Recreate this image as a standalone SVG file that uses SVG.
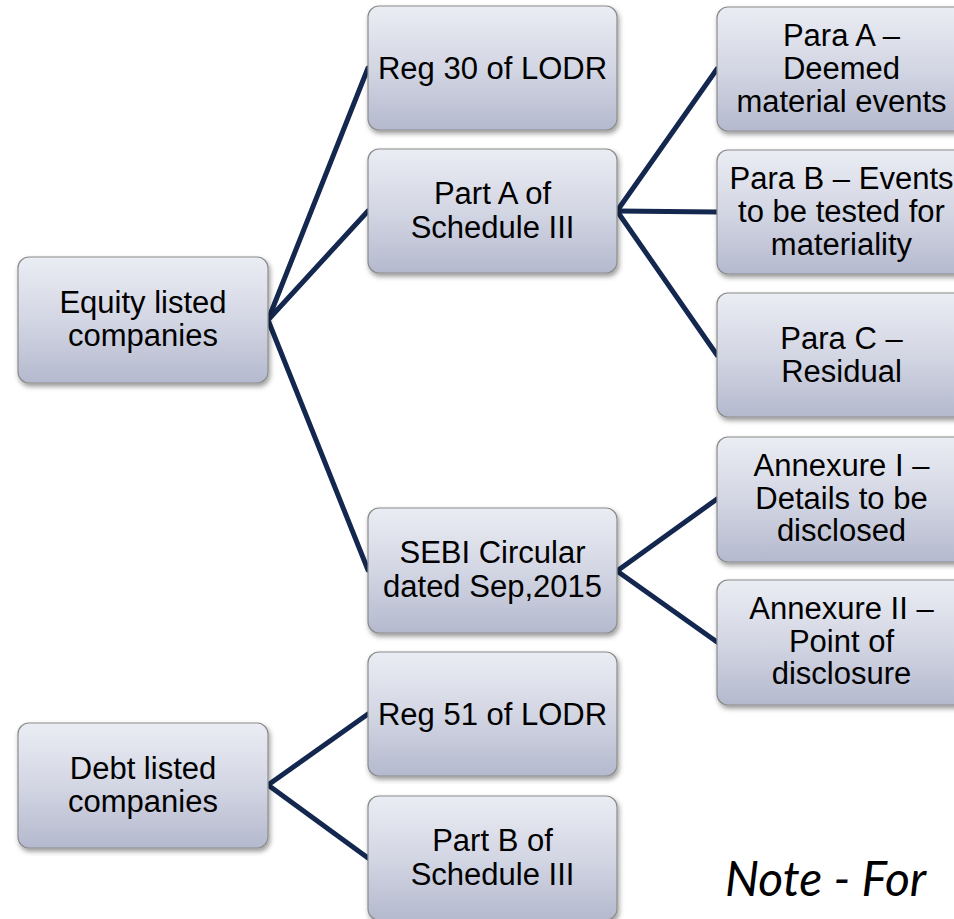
<svg xmlns="http://www.w3.org/2000/svg" width="954" height="919" viewBox="0 0 954 919">
  <defs>
    <linearGradient id="boxFill" x1="0" y1="0" x2="0" y2="1">
      <stop offset="0" stop-color="#ebedf4"/>
      <stop offset="0.5" stop-color="#d3d6e3"/>
      <stop offset="1" stop-color="#b4b9ce"/>
    </linearGradient>
    <filter id="shadow" x="-10%" y="-10%" width="125%" height="130%">
      <feDropShadow dx="1.5" dy="3" stdDeviation="2.5" flood-color="#000" flood-opacity="0.4"/>
    </filter>
  </defs>
  <style>
    .box { fill: url(#boxFill); stroke: #8c8c8c; stroke-width: 1.2; filter: url(#shadow); }
    .lbl { font-family: "Liberation Sans", Arial, sans-serif; font-size: 31px; fill: #000; text-anchor: middle; }
    .link { stroke: #14284f; stroke-width: 5; fill: none; stroke-linecap: round; stroke-linejoin: round; }
    .note { font-family: Lato, "Open Sans", sans-serif; font-style: italic; font-size: 48px; fill: #000; }
  </style>
  <rect width="954" height="919" fill="#fff"/>

  <!-- connectors -->
  <g id="connectors">
    <polyline class="link" points="368,68 268,320 368,211"/>
    <polyline class="link" points="268,320 368,570"/>
    <polyline class="link" points="717,69 617,211 717,355"/>
    <polyline class="link" points="617,211 717,212"/>
    <polyline class="link" points="717,499 617,571 717,642"/>
    <polyline class="link" points="368,714 268,785 368,858"/>
  </g>

  <!-- left column -->
  <g id="equity">
    <rect class="box" x="18" y="257" width="250" height="126" rx="11"/>
    <text class="lbl" x="143" y="313">Equity listed</text>
    <text class="lbl" x="143" y="346">companies</text>
  </g>
  <g id="debt">
    <rect class="box" x="18" y="723" width="250" height="125" rx="11"/>
    <text class="lbl" x="143" y="779">Debt listed</text>
    <text class="lbl" x="143" y="812">companies</text>
  </g>

  <!-- middle column -->
  <g id="reg30">
    <rect class="box" x="368" y="6" width="249" height="124" rx="11"/>
    <text class="lbl" x="492.5" y="79">Reg 30 of LODR</text>
  </g>
  <g id="partA">
    <rect class="box" x="368" y="149" width="249" height="124" rx="11"/>
    <text class="lbl" x="492.5" y="204">Part A of</text>
    <text class="lbl" x="492.5" y="238">Schedule III</text>
  </g>
  <g id="sebi">
    <rect class="box" x="368" y="508" width="249" height="125" rx="11"/>
    <text class="lbl" x="492.5" y="563">SEBI Circular</text>
    <text class="lbl" x="492.5" y="597">dated Sep,2015</text>
  </g>
  <g id="reg51">
    <rect class="box" x="368" y="652" width="249" height="124" rx="11"/>
    <text class="lbl" x="492.5" y="725">Reg 51 of LODR</text>
  </g>
  <g id="partB">
    <rect class="box" x="368" y="796" width="249" height="124" rx="11"/>
    <text class="lbl" x="492.5" y="851">Part B of</text>
    <text class="lbl" x="492.5" y="885">Schedule III</text>
  </g>

  <!-- right column -->
  <g id="paraA">
    <rect class="box" x="717" y="7" width="249" height="124" rx="11"/>
    <text class="lbl" x="841.5" y="46">Para A –</text>
    <text class="lbl" x="841.5" y="79">Deemed</text>
    <text class="lbl" x="841.5" y="112">material events</text>
  </g>
  <g id="paraB">
    <rect class="box" x="717" y="150" width="249" height="124" rx="11"/>
    <text class="lbl" x="841.5" y="189">Para B – Events</text>
    <text class="lbl" x="841.5" y="222">to be tested for</text>
    <text class="lbl" x="841.5" y="255">materiality</text>
  </g>
  <g id="paraC">
    <rect class="box" x="717" y="293" width="249" height="124" rx="11"/>
    <text class="lbl" x="841.5" y="349">Para C –</text>
    <text class="lbl" x="841.5" y="382">Residual</text>
  </g>
  <g id="annex1">
    <rect class="box" x="717" y="437" width="249" height="125" rx="11"/>
    <text class="lbl" x="841.5" y="476">Annexure I –</text>
    <text class="lbl" x="841.5" y="509">Details to be</text>
    <text class="lbl" x="841.5" y="541">disclosed</text>
  </g>
  <g id="annex2">
    <rect class="box" x="717" y="580" width="249" height="125" rx="11"/>
    <text class="lbl" x="841.5" y="619">Annexure II –</text>
    <text class="lbl" x="841.5" y="652">Point of</text>
    <text class="lbl" x="841.5" y="684">disclosure</text>
  </g>

  <text class="note" x="725" y="896">Note - For</text>
</svg>
